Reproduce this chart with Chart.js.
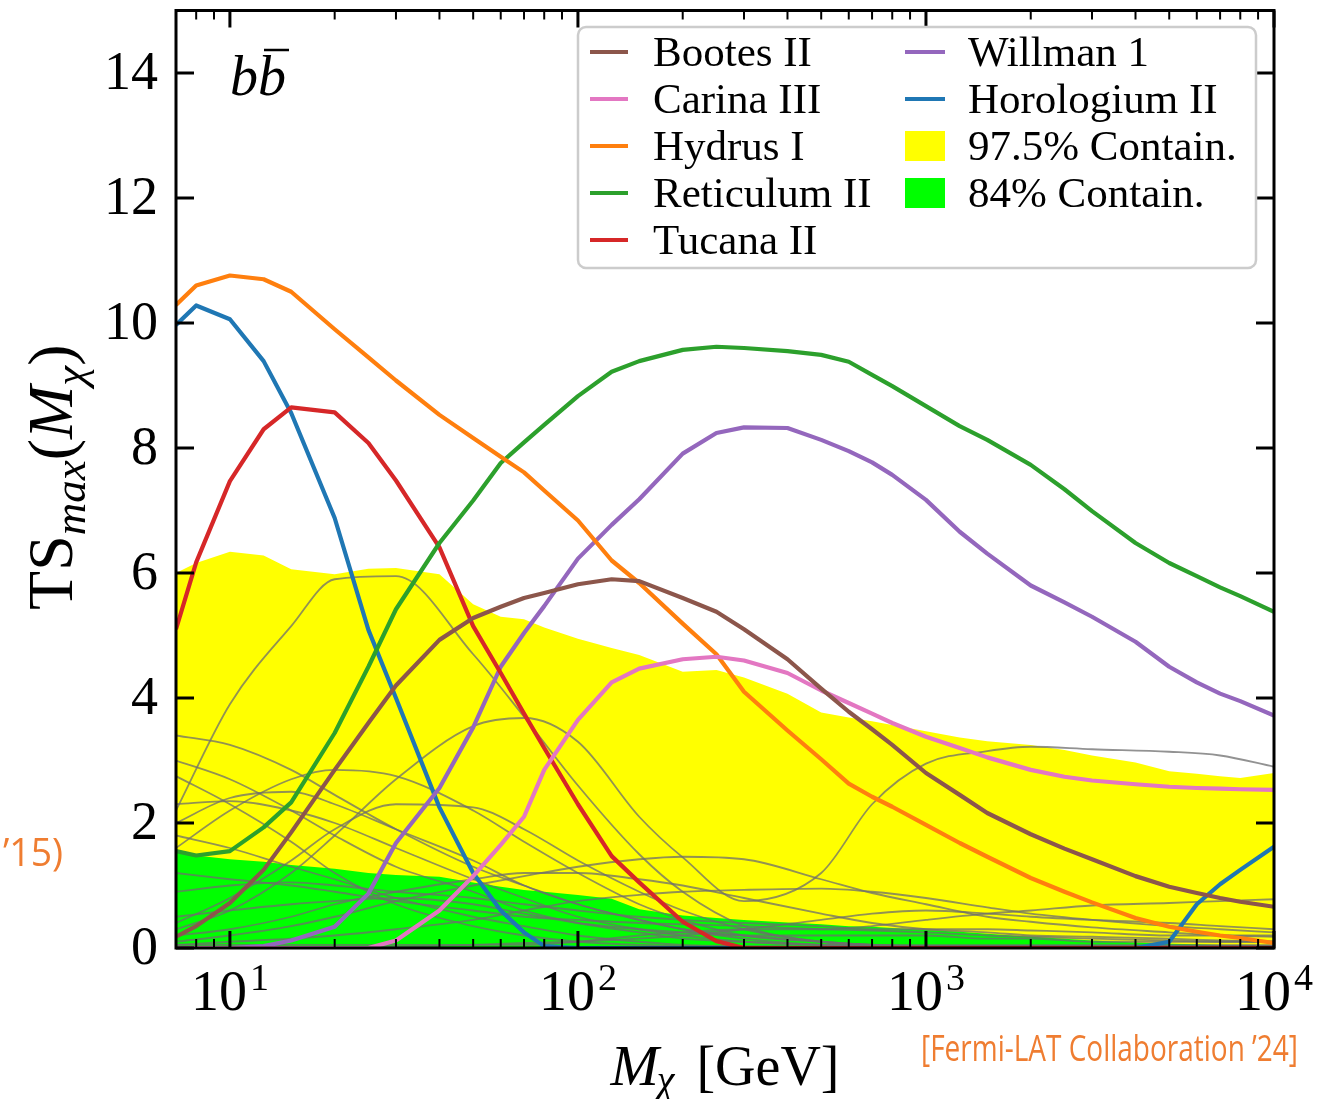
<!DOCTYPE html>
<html lang="en">
<head>
<meta charset="UTF-8">
<title>TS_max vs M_chi, b bbar channel</title>
<script src="https://cdn.jsdelivr.net/npm/chart.js"></script>
<style>
  html, body { margin: 0; padding: 0; background: #fff; }
  #tsChart { display: block; }
</style>
</head>
<body>
<canvas id="tsChart" width="1324" height="1099"></canvas>
<script>
// DM mass grid [GeV] for the named dwarfs and the containment bands
const masses = [7, 8, 10, 12.5, 15, 20, 25, 30, 40, 50, 60, 70, 80, 100, 125, 150, 200, 250, 300, 400,
                500, 600, 700, 800, 1000, 1250, 1500, 2000, 2500, 3000, 4000, 5000, 6000, 7000, 8000, 10000];

const bootesII     = [0.18, 0.35, 0.72, 1.25, 1.85, 2.85, 3.6, 4.2, 4.93, 5.28, 5.46, 5.6, 5.68, 5.82, 5.9, 5.87, 5.6, 5.38, 5.1, 4.62,
                      4.15, 3.78, 3.5, 3.25, 2.8, 2.45, 2.16, 1.82, 1.59, 1.42, 1.15, 0.98, 0.88, 0.8, 0.74, 0.66];
const carinaIII    = [0, 0, 0, 0, 0, 0, 0, 0.12, 0.6, 1.15, 1.65, 2.1, 2.85, 3.65, 4.25, 4.47, 4.62, 4.66, 4.6, 4.4,
                      4.12, 3.92, 3.75, 3.6, 3.38, 3.2, 3.05, 2.85, 2.74, 2.68, 2.62, 2.58, 2.56, 2.55, 2.54, 2.53];
const hydrusI      = [10.29, 10.6, 10.76, 10.7, 10.5, 9.9, 9.45, 9.08, 8.53, 8.16, 7.86, 7.61, 7.32, 6.84, 6.2, 5.84, 5.19, 4.7, 4.1, 3.48,
                      3.02, 2.63, 2.42, 2.26, 1.97, 1.68, 1.46, 1.12, 0.9, 0.73, 0.48, 0.34, 0.26, 0.2, 0.16, 0.08];
const reticulumII  = [1.55, 1.48, 1.55, 1.93, 2.33, 3.44, 4.5, 5.42, 6.48, 7.16, 7.76, 8.09, 8.37, 8.83, 9.22, 9.39, 9.57, 9.62, 9.6, 9.55,
                      9.49, 9.38, 9.17, 8.99, 8.67, 8.35, 8.13, 7.73, 7.34, 6.99, 6.48, 6.16, 5.95, 5.77, 5.63, 5.38];
const tucanaII     = [5.1, 6.17, 7.47, 8.3, 8.65, 8.57, 8.08, 7.48, 6.41, 5.15, 4.4, 3.75, 3.2, 2.3, 1.47, 1.05, 0.42, 0.11, 0, 0,
                      0, 0, 0, 0, 0, 0, 0, 0, 0, 0, 0, 0, 0, 0, 0, 0];
const willman1     = [0, 0, 0, 0.03, 0.12, 0.34, 0.87, 1.68, 2.56, 3.53, 4.5, 5.04, 5.47, 6.23, 6.77, 7.18, 7.91, 8.24, 8.33, 8.32,
                      8.13, 7.95, 7.77, 7.57, 7.17, 6.66, 6.31, 5.8, 5.53, 5.3, 4.9, 4.5, 4.25, 4.07, 3.95, 3.72];
const horologiumII = [9.97, 10.28, 10.06, 9.39, 8.56, 6.88, 5.09, 4.0, 2.25, 1.2, 0.6, 0.25, 0.03, 0, 0, 0, 0, 0, 0, 0,
                      0, 0, 0, 0, 0, 0, 0, 0, 0, 0, 0, 0.1, 0.7, 1.02, 1.25, 1.62];

// upper edges of the containment bands
const contain975 = [6.0, 6.16, 6.34, 6.28, 6.06, 5.98, 6.07, 6.08, 5.98, 5.5, 5.3, 5.26, 5.13, 4.95, 4.8, 4.69, 4.42, 4.45, 4.33, 4.07,
                    3.77, 3.69, 3.63, 3.57, 3.47, 3.37, 3.31, 3.25, 3.17, 3.08, 2.97, 2.83, 2.79, 2.75, 2.72, 2.8];
const contain84  = [1.55, 1.48, 1.42, 1.38, 1.33, 1.27, 1.2, 1.17, 1.14, 1.05, 0.98, 0.93, 0.9, 0.85, 0.79, 0.62, 0.52, 0.48, 0.45, 0.41,
                    0.38, 0.35, 0.34, 0.32, 0.29, 0.26, 0.23, 0.18, 0.15, 0.12, 0.09, 0.07, 0.06, 0.05, 0.05, 0.04];

// the other dwarfs (thin grey curves), on a coarser grid
const greyMasses = [7, 10, 15, 20, 30, 50, 70, 100, 150, 200, 300, 500, 700, 1000, 1500, 2000, 3000, 5000, 7000, 10000];
const otherDwarfs = [
  [2.2, 3.9, 5.15, 5.9, 5.95, 4.7, 3.7, 2.6, 1.5, 0.9, 0.35, 0.1, 0.05, 0.03, 0.02, 0.02, 0.01, 0.01, 0.01, 0.01],
  [0.3, 0.6, 1.2, 1.8, 2.7, 3.55, 3.68, 3.3, 2.1, 1.45, 0.75, 1.2, 2.3, 2.95, 3.15, 3.22, 3.18, 3.14, 3.08, 2.9],
  [3.4, 3.25, 2.85, 2.45, 1.9, 1.3, 1.0, 0.7, 0.45, 0.3, 0.15, 0.05, 0.03, 0.02, 0.02, 0.02, 0.02, 0.02, 0.02, 0.02],
  [3.0, 2.7, 2.2, 1.8, 1.3, 0.9, 0.6, 0.4, 0.25, 0.15, 0.1, 0.05, 0.04, 0.03, 0.03, 0.03, 0.03, 0.03, 0.03, 0.03],
  [2.75, 2.3, 1.7, 1.2, 0.7, 0.35, 0.2, 0.1, 0.05, 0.03, 0.02, 0.02, 0.02, 0.02, 0.02, 0.02, 0.02, 0.02, 0.02, 0.02],
  [1.6, 2.2, 2.7, 2.85, 2.75, 2.2, 1.7, 1.2, 0.7, 0.45, 0.2, 0.1, 0.05, 0.04, 0.04, 0.04, 0.04, 0.04, 0.04, 0.04],
  [0.1, 0.2, 0.35, 0.5, 0.75, 1.0, 1.15, 1.3, 1.42, 1.46, 1.42, 1.1, 0.88, 0.7, 0.5, 0.42, 0.33, 0.25, 0.2, 0.18],
  [0.05, 0.1, 0.15, 0.2, 0.3, 0.45, 0.6, 0.75, 0.85, 0.9, 0.93, 0.95, 0.9, 0.8, 0.65, 0.55, 0.45, 0.35, 0.3, 0.25],
  [0.05, 0.05, 0.05, 0.05, 0.05, 0.05, 0.05, 0.1, 0.2, 0.25, 0.3, 0.3, 0.35, 0.45, 0.55, 0.6, 0.68, 0.72, 0.75, 0.78],
  [1.2, 1.1, 1.0, 0.9, 0.75, 0.6, 0.5, 0.45, 0.4, 0.38, 0.35, 0.3, 0.28, 0.25, 0.2, 0.18, 0.15, 0.12, 0.1, 0.1],
  [2.3, 2.35, 2.2, 2.0, 1.6, 1.1, 0.8, 0.5, 0.3, 0.2, 0.1, 0.05, 0.03, 0.03, 0.03, 0.03, 0.03, 0.03, 0.03, 0.03],
  [0.9, 1.0, 1.05, 1.0, 0.9, 0.8, 0.7, 0.6, 0.5, 0.45, 0.4, 0.35, 0.3, 0.3, 0.3, 0.28, 0.25, 0.2, 0.2, 0.2],
  [0.4, 0.8, 1.4, 1.9, 2.3, 2.25, 1.9, 1.4, 0.9, 0.6, 0.3, 0.1, 0.05, 0.03, 0.03, 0.03, 0.03, 0.03, 0.03, 0.03],
  [0.5, 0.6, 0.7, 0.75, 0.8, 0.7, 0.55, 0.4, 0.3, 0.25, 0.2, 0.2, 0.2, 0.2, 0.15, 0.15, 0.1, 0.1, 0.1, 0.1],
  [0.2, 0.3, 0.5, 0.7, 0.9, 1.1, 1.2, 1.2, 1.1, 1.0, 0.8, 0.55, 0.4, 0.3, 0.25, 0.2, 0.18, 0.15, 0.12, 0.1],
  [1.8, 1.6, 1.3, 1.1, 0.8, 0.5, 0.35, 0.2, 0.1, 0.05, 0.03, 0.02, 0.02, 0.02, 0.02, 0.02, 0.02, 0.02, 0.02, 0.02],
  [0, 0, 0, 0, 0.02, 0.05, 0.08, 0.1, 0.15, 0.2, 0.3, 0.45, 0.55, 0.6, 0.55, 0.5, 0.45, 0.4, 0.35, 0.3],
  [2.0, 2.4, 2.5, 2.3, 1.9, 1.4, 1.0, 0.7, 0.45, 0.3, 0.2, 0.1, 0.05, 0.04, 0.04, 0.04, 0.04, 0.04, 0.04, 0.04]
];

// axis ticks
const xMajorTicks = [10, 100, 1000, 10000];
const yTicks = [0, 2, 4, 6, 8, 10, 12, 14];

// legend layout (column by column)
const legendColumns = [
  ['Bootes II', 'Carina III', 'Hydrus I', 'Reticulum II', 'Tucana II'],
  ['Willman 1', 'Horologium II', '97.5% Contain.', '84% Contain.']
];

const SERIF = '"Liberation Serif", "DejaVu Serif", serif';

function pts(xs, ys) {
  return ys.map((v, i) => ({ x: xs[i], y: v }));
}

function dwarfLine(label, ys, color) {
  return {
    label, data: pts(masses, ys), borderColor: color, backgroundColor: color,
    borderWidth: 4.2, fill: false, tension: 0, borderJoinStyle: 'round', order: 1
  };
}

const datasets = [
  dwarfLine('Bootes II', bootesII, '#8c564b'),
  dwarfLine('Carina III', carinaIII, '#e377c2'),
  dwarfLine('Hydrus I', hydrusI, '#ff7f0e'),
  dwarfLine('Reticulum II', reticulumII, '#2ca02c'),
  dwarfLine('Tucana II', tucanaII, '#d62728'),
  dwarfLine('Willman 1', willman1, '#9467bd'),
  dwarfLine('Horologium II', horologiumII, '#1f77b4')
];

otherDwarfs.forEach((ys, i) => {
  datasets.push({
    label: 'other ' + (i + 1), data: pts(greyMasses, ys),
    borderColor: 'rgba(110,110,110,0.75)', borderWidth: 1.8,
    fill: false, cubicInterpolationMode: 'monotone', order: 2
  });
});

datasets.push({
  label: '84% Contain.', data: pts(masses, contain84),
  borderWidth: 0, borderColor: 'rgba(0,0,0,0)', backgroundColor: '#00ff00',
  fill: 'origin', tension: 0, order: 3
});
datasets.push({
  label: '97.5% Contain.', data: pts(masses, contain975),
  borderWidth: 0, borderColor: 'rgba(0,0,0,0)', backgroundColor: '#ffff00',
  fill: 'origin', tension: 0, order: 4
});

function seg(ctx, x1, y1, x2, y2) {
  ctx.beginPath();
  ctx.moveTo(x1, y1);
  ctx.lineTo(x2, y2);
  ctx.stroke();
}

const decorPlugin = {
  id: 'decor',
  afterDatasetsDraw(chart) {
    const { ctx, chartArea: a, scales: { x, y } } = chart;
    ctx.save();

    // frame + inward ticks on all four sides
    ctx.strokeStyle = '#000';
    ctx.lineWidth = 3;
    ctx.strokeRect(a.left, a.top, a.right - a.left, a.bottom - a.top);
    yTicks.forEach(v => {
      const py = y.getPixelForValue(v);
      seg(ctx, a.left, py, a.left + 18, py);
      seg(ctx, a.right - 18, py, a.right, py);
    });
    xMajorTicks.forEach(v => {
      const px = x.getPixelForValue(v);
      seg(ctx, px, a.bottom, px, a.bottom - 17);
      seg(ctx, px, a.top, px, a.top + 17);
    });
    ctx.lineWidth = 2;
    [1, 10, 100, 1000].forEach(dec => {
      for (let k = 2; k <= 9; k++) {
        const v = dec * k;
        if (v <= x.min || v >= x.max) continue;
        const px = x.getPixelForValue(v);
        seg(ctx, px, a.bottom, px, a.bottom - 9);
        seg(ctx, px, a.top, px, a.top + 9);
      }
    });

    // y tick labels
    ctx.fillStyle = '#000';
    ctx.font = '54px ' + SERIF;
    ctx.textAlign = 'right';
    ctx.textBaseline = 'middle';
    yTicks.forEach(v => ctx.fillText(String(v), a.left - 18, y.getPixelForValue(v) + 2));

    // x tick labels 10^n
    ctx.textBaseline = 'alphabetic';
    ctx.textAlign = 'left';
    xMajorTicks.forEach(v => {
      const px = x.getPixelForValue(v);
      const exp = String(Math.round(Math.log10(v)));
      ctx.font = '56px ' + SERIF;
      const wb = ctx.measureText('10').width;
      ctx.font = '38px ' + SERIF;
      const we = ctx.measureText(exp).width;
      const x0 = px - (wb + 3 + we) / 2;
      ctx.font = '56px ' + SERIF;
      ctx.fillText('10', x0, 1010);
      ctx.font = '38px ' + SERIF;
      ctx.fillText(exp, x0 + wb + 3, 990);
    });

    // x title: M_chi [GeV]
    ctx.font = 'italic 58px ' + SERIF;
    const wM = ctx.measureText('M').width;
    ctx.font = 'italic 40px ' + SERIF;
    const wChi = ctx.measureText('χ').width;
    ctx.font = '56px ' + SERIF;
    const wGeV = ctx.measureText('[GeV]').width;
    const gap = 20;
    let tx = (a.left + a.right) / 2 - (wM + wChi + gap + wGeV) / 2;
    ctx.font = 'italic 58px ' + SERIF;
    ctx.fillText('M', tx, 1085);
    ctx.font = 'italic 40px ' + SERIF;
    ctx.fillText('χ', tx + wM - 2, 1093);
    ctx.font = '56px ' + SERIF;
    ctx.fillText('[GeV]', tx + wM + wChi + gap, 1085);

    // y title: TS_max(M_chi), rotated
    ctx.save();
    ctx.translate(72, (a.top + a.bottom) / 2 - 2);
    ctx.rotate(-Math.PI / 2);
    const parts = [
      { t: 'TS', f: '64px ', dy: 0 },
      { t: 'max', f: 'italic 45px ', dy: 13 },
      { t: '(', f: '64px ', dy: 0 },
      { t: 'M', f: 'italic 64px ', dy: 0 },
      { t: 'χ', f: 'italic 45px ', dy: 13 },
      { t: ')', f: '64px ', dy: 0 }
    ];
    let total = 0;
    parts.forEach(p => { ctx.font = p.f + SERIF; p.w = ctx.measureText(p.t).width; total += p.w; });
    let cx = -total / 2;
    parts.forEach(p => {
      ctx.font = p.f + SERIF;
      ctx.fillText(p.t, cx, p.dy);
      cx += p.w;
    });
    ctx.restore();

    // channel label b bbar
    ctx.font = 'italic 56px ' + SERIF;
    const wb1 = ctx.measureText('b').width;
    ctx.fillText('b', 230, 95);
    ctx.fillText('b', 230 + wb1, 95);
    ctx.lineWidth = 2.5;
    seg(ctx, 230 + wb1 + 6, 50, 230 + 2 * wb1 + 3, 50);

    // legend
    const lx = 578, ly = 27, lw = 678, lh = 241;
    ctx.beginPath();
    ctx.roundRect(lx, ly, lw, lh, 8);
    ctx.fillStyle = 'rgba(255,255,255,0.85)';
    ctx.fill();
    ctx.strokeStyle = '#cccccc';
    ctx.lineWidth = 2.5;
    ctx.stroke();

    const colX = [{ h0: 590, h1: 628, t: 653 }, { h0: 905, h1: 945, t: 968 }];
    const rowY0 = 52, rowStep = 47;
    ctx.font = '43px ' + SERIF;
    ctx.textAlign = 'left';
    legendColumns.forEach((col, ci) => {
      col.forEach((label, ri) => {
        const ds = chart.data.datasets.find(d => d.label === label);
        const ry = rowY0 + ri * rowStep;
        const c = colX[ci];
        if (ds.fill) {
          ctx.fillStyle = ds.backgroundColor;
          ctx.fillRect(c.h0, ry - 15, c.h1 - c.h0, 30);
        } else {
          ctx.strokeStyle = ds.borderColor;
          ctx.lineWidth = 4;
          seg(ctx, c.h0, ry, c.h1, ry);
        }
        ctx.fillStyle = '#000';
        ctx.fillText(label, c.t, ry + 14);
      });
    });

    // slide annotations (orange)
    ctx.fillStyle = '#ef7d31';
    ctx.font = '38px "Liberation Sans Narrow", "Open Sans", sans-serif';
    ctx.textAlign = 'right';
    ctx.fillText('’15)', 63, 866, 60);
    ctx.font = '36px "Liberation Sans Narrow", "Open Sans", sans-serif';
    ctx.textAlign = 'left';
    ctx.fillText('[Fermi-LAT Collaboration ’24]', 921, 1061, 377);

    ctx.restore();
  }
};

new Chart(document.getElementById('tsChart'), {
  type: 'line',
  data: { datasets },
  options: {
    responsive: false,
    animation: false,
    devicePixelRatio: 1,
    layout: { padding: { left: 176, right: 50, top: 10.5, bottom: 151 } },
    plugins: {
      legend: { display: false },
      tooltip: { enabled: false }
    },
    elements: { point: { radius: 0 } },
    scales: {
      x: { type: 'logarithmic', min: 7, max: 10000, display: false },
      y: { type: 'linear', min: 0, max: 15, display: false }
    }
  },
  plugins: [decorPlugin]
});
</script>
</body>
</html>
